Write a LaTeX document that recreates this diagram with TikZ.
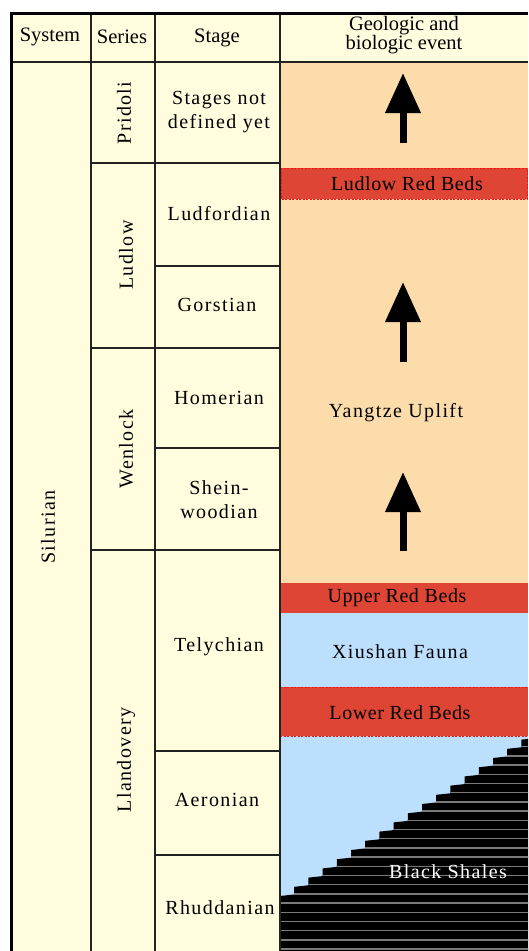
\documentclass[tikz,border=0pt]{standalone}
\usepackage{fontspec}
\setmainfont{Liberation Serif}
\newfontfamily\spacedfont[LetterSpace=7]{Liberation Serif}
\newfontfamily\semispacedfont[LetterSpace=3]{Liberation Serif}
\usetikzlibrary{arrows.meta}
\definecolor{cream}{HTML}{FFFDDE}
\definecolor{peach}{HTML}{FCDCAA}
\definecolor{redbed}{HTML}{DE4535}
\definecolor{dashred}{HTML}{FF1010}
\definecolor{skyb}{HTML}{BBDFFC}
\definecolor{gridc}{HTML}{222222}
\definecolor{stripe}{HTML}{7A7A7A}
\begin{document}
\begin{tikzpicture}[x=1pt,y=-1pt,
  hdr/.style={font=\fontsize{20.5}{19.5}\selectfont, inner sep=0pt, align=center},
  stagelbl/.style={font=\spacedfont\fontsize{20}{24}\selectfont, inner sep=0pt, align=center},
  serieslbl/.style={font=\spacedfont\fontsize{20}{24}\selectfont, inner sep=0pt, rotate=90},
  bedlbl/.style={font=\semispacedfont\fontsize{20}{24}\selectfont, inner sep=0pt},
  evlbl/.style={font=\spacedfont\fontsize{20}{24}\selectfont, inner sep=0pt},
  gridline/.style={draw=gridc, line width=1.8pt},
  frameline/.style={draw=black, line width=3pt},
  bigarrow/.style={line width=7pt, -{Triangle[width=34pt,length=40pt]}},
  dashedge/.style={draw=dashred, line width=1pt, dash pattern=on 2pt off 1.5pt},
]
\useasboundingbox (0,0) rectangle (528,951);
\begin{scope}
\clip (0,0) rectangle (528,951);
\fill[white] (0,0) rectangle (528,951);
\fill[cream] (10,12) rectangle (528,951);
% event column backgrounds
\fill[peach] (280,62) rectangle (528,583);
\fill[skyb] (280,583) rectangle (528,951);
\fill[redbed] (280,168) rectangle (528,199);
\draw[dashedge] (281,168) rectangle (527,199);
\fill[redbed] (280,583) rectangle (528,613);
\fill[redbed] (280,687) rectangle (528,736);
\draw[dashedge] (280,687) -- (528,687);
\draw[dashedge] (280,736) -- (528,736);
% black shales
\fill[black] (280,951) -- (280,896)
  \foreach \k in {1,...,18}{ -- ({280+14.2*\k},{896-9.2*(\k-1)-1.5}) -- ({280+14.2*\k},{896-9.2*\k}) }
  -- (540,{896-9.2*18}) -- (540,951) -- cycle;
\begin{scope}
\clip (280,951) -- (280,896)
  \foreach \k in {1,...,18}{ -- ({280+14.2*\k},{896-9.2*(\k-1)-1.5}) -- ({280+14.2*\k},{896-9.2*\k}) }
  -- (540,{896-9.2*18}) -- (540,951) -- cycle;
\foreach \j in {-18,...,5}{
  \draw[stripe, line width=1.4pt] (280,{903+9.2*\j}) -- (540,{903+9.2*\j});
}
\end{scope}
% arrows
\coordinate (a1s) at (403,143); \coordinate (a1e) at (403,73);
\coordinate (a2s) at (403,362); \coordinate (a2e) at (403,282);
\coordinate (a3s) at (403,551); \coordinate (a3e) at (403,472);
\draw[bigarrow] (a1s) -- (a1e);
\draw[bigarrow] (a2s) -- (a2e);
\draw[bigarrow] (a3s) -- (a3e);
% grid lines
\draw[gridline] (10,62) -- (528,62);
\draw[gridline] (91,12) -- (91,951);
\draw[gridline] (155,12) -- (155,951);
\draw[gridline] (280,12) -- (280,951);
\draw[gridline] (91,163) -- (280,163);
\draw[gridline] (91,348) -- (280,348);
\draw[gridline] (91,550) -- (280,550);
\draw[gridline] (155,266) -- (280,266);
\draw[gridline] (155,448) -- (280,448);
\draw[gridline] (155,751) -- (280,751);
\draw[gridline] (155,855) -- (280,855);
% outer frame
\draw[frameline] (11.5,951) -- (11.5,13.5) -- (528,13.5);
\end{scope}
% header
\node[hdr] (hsys) at (50,37) {System};
\node[hdr] (hser) at (122,37) {Series};
\node[hdr] (hstg) at (217,38) {Stage};
\node[hdr] (hev) at (404,35) {Geologic and\\biologic event};
% system and series
\node[serieslbl] (silurian) at (48,527) {Silurian};
\node[serieslbl] (pridoli) at (124,113) {Pridoli};
\node[serieslbl] (ludlow) at (126,255) {Ludlow};
\node[serieslbl] (wenlock) at (126,449) {Wenlock};
\node[serieslbl] (llandovery) at (126,760) {Llandovery};
% stages
\node[stagelbl] (pristg) at (219,112) {Stages not\\defined yet};
\node[stagelbl] (ludf) at (219,214) {Ludfordian};
\node[stagelbl] (gors) at (217,305) {Gorstian};
\node[stagelbl] (home) at (219,398) {Homerian};
\node[stagelbl] (shei) at (219,500) {Shein-\\woodian};
\node[stagelbl] (tely) at (219,647) {Telychian};
\node[stagelbl] (aero) at (217,800) {Aeronian};
\node[stagelbl] (rhud) at (220,908) {Rhuddanian};
% events
\node[bedlbl] (lrb) at (407,184) {Ludlow Red Beds};
\node[evlbl] (yu) at (396,413) {Yangtze Uplift};
\node[bedlbl] (urb) at (397,598) {Upper Red Beds};
\node[evlbl] (xf) at (400,652) {Xiushan Fauna};
\node[bedlbl] (lorb) at (400,713) {Lower Red Beds};
\node[evlbl, text=white] (bs) at (448,872) {Black Shales};
\end{tikzpicture}
\end{document}
